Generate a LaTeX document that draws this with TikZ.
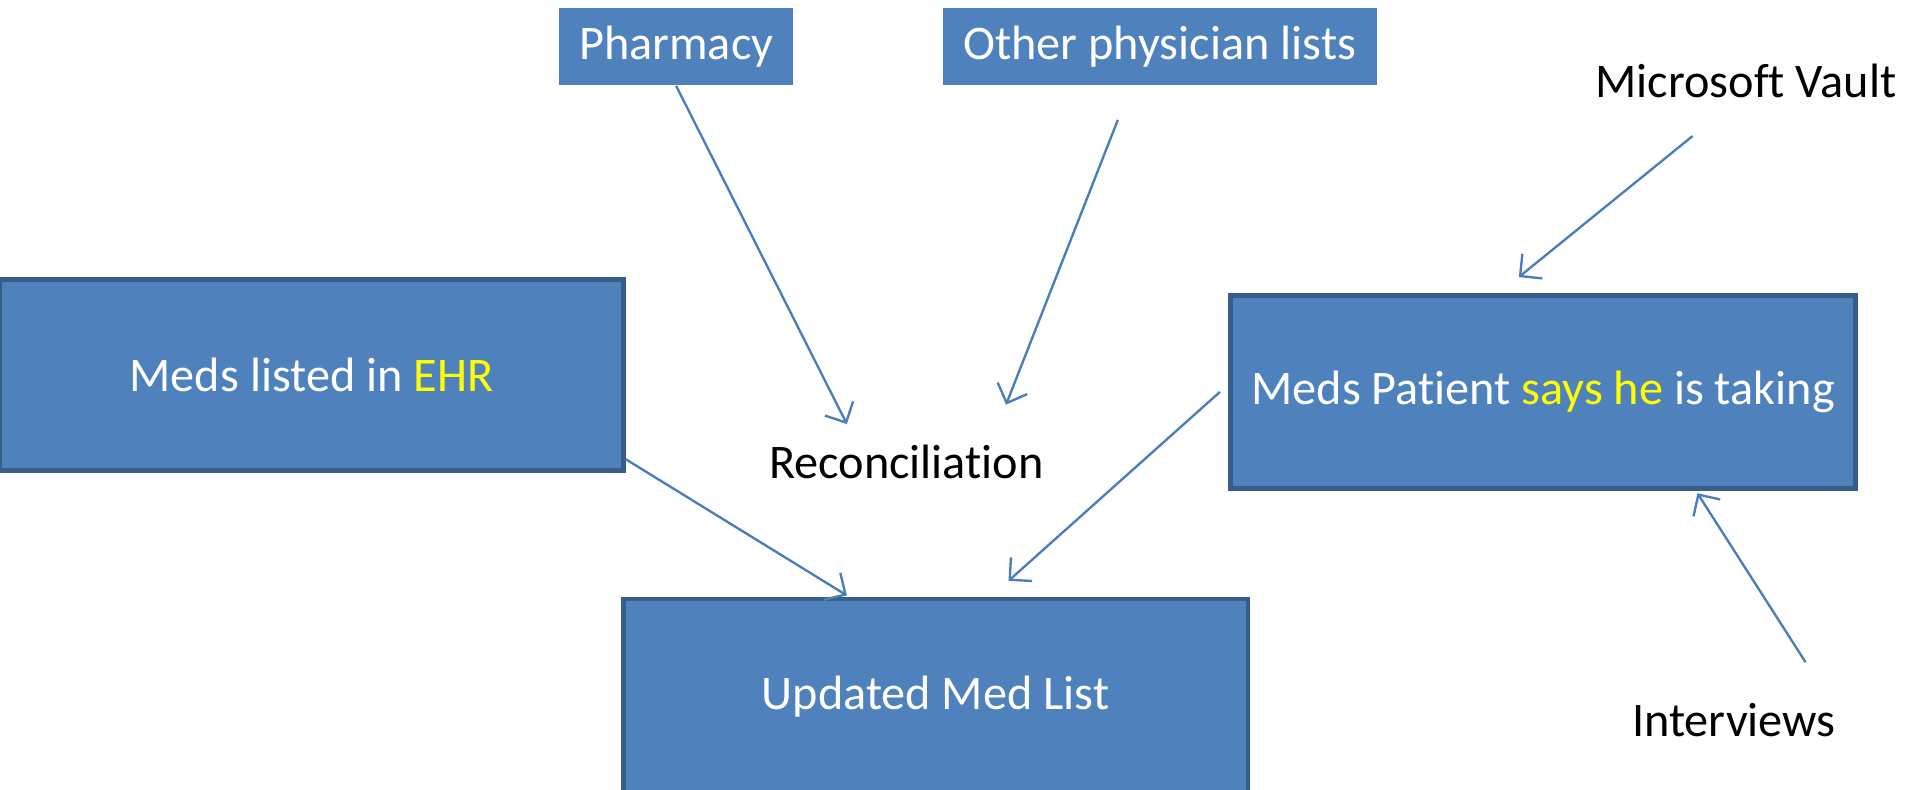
\documentclass[tikz,border=0pt]{standalone}
\usepackage{fontspec}
\setmainfont{Carlito}[Ligatures=NoCommon]
\usetikzlibrary{calc,arrows.meta}
\definecolor{boxblue}{HTML}{4F81BD}
\definecolor{boxedge}{HTML}{385D8A}
\definecolor{linkblue}{HTML}{4A7EBB}
\definecolor{hilite}{HTML}{FFFF00}
\tikzset{
  srcbox/.style={fill=boxblue, text=white, inner sep=0pt},
  bigbox/.style={fill=boxblue, draw=boxedge, line width=1.1pt, text=white, inner sep=0pt},
  link/.style={draw=linkblue, line width=0.55pt, -{Straight Barb[length=1.3mm,width=2.6mm]}}
}
\begin{document}
\begin{tikzpicture}[font=\fontsize{11.3}{13}\selectfont]
\useasboundingbox (0,0) rectangle (15.695,-6.5);
\node[srcbox, minimum width=1.93cm, minimum height=0.63cm] (pharm) at (5.565,-0.385) {Pharmacy};
\node[srcbox, minimum width=3.57cm, minimum height=0.63cm] (other) at (9.545,-0.385) {Other physician lists};
\node (vault) at (14.37,-0.67) {Microsoft Vault};
\node[bigbox, minimum width=5.13cm, minimum height=1.57cm] (ehr) at (2.565,-3.085) {Meds listed in \textcolor{hilite}{EHR}};
\node (recon) at (7.46,-3.80) {Reconciliation};
\node[bigbox, minimum width=5.14cm, minimum height=1.59cm] (says) at (12.70,-3.225) {Meds Patient \textcolor{hilite}{says he} is taking};
\node[bigbox, minimum width=5.14cm, minimum height=1.6cm] (upd) at (7.70,-5.73) {Updated Med List};
\node (interv) at (14.27,-5.93) {Interviews};

\draw[link] (pharm.south) -- ($(recon) + (-0.49,0.31)$);
\draw[link] ($(other.south) + (-0.345,-0.28)$) -- ($(recon) + (0.82,0.47)$);
\draw[link] ($(vault) + (-0.44,-0.45)$) -- ($(says.north) + (-0.20,0.13)$);
\draw[link] ($(interv) + (0.59,0.48)$) -- ($(says.south) + (1.27,-0.02)$);
\draw[link] ($(ehr.south east) + (0,0.11)$) -- ($(upd.north) + (-0.73,0.01)$);
\draw[link] ($(says.west) + (-0.07,0)$) -- ($(upd.north) + (0.60,0.13)$);
\end{tikzpicture}
\end{document}
